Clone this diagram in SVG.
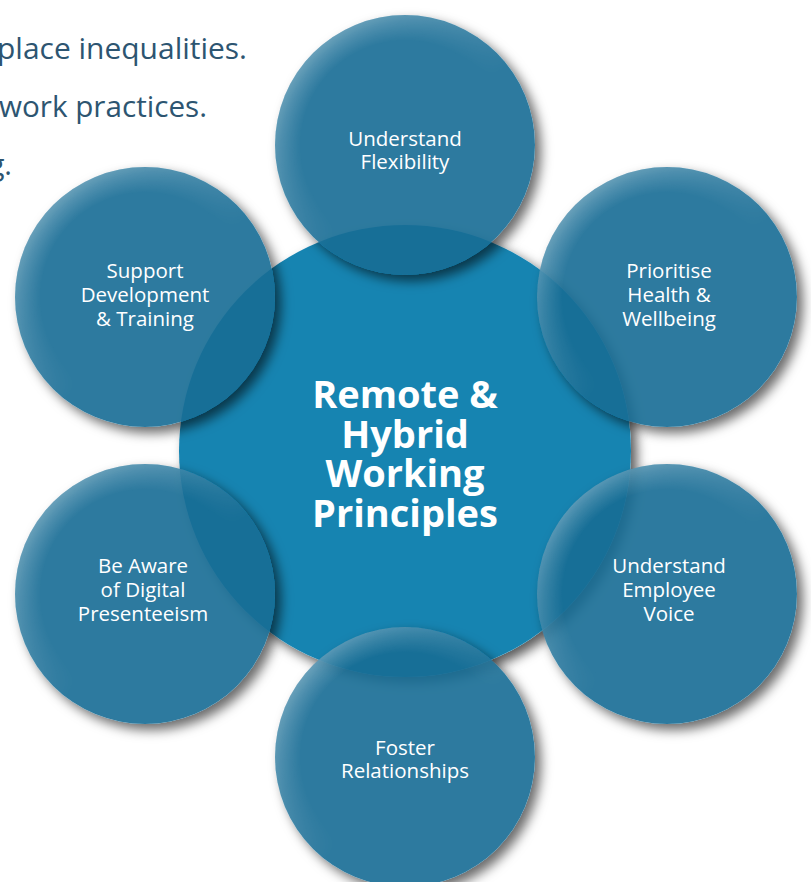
<svg xmlns="http://www.w3.org/2000/svg" width="811" height="882" viewBox="0 0 811 882">
<defs>
  <radialGradient id="gHi" cx="50%" cy="50%" r="50%">
    <stop offset="0" stop-color="#ffffff" stop-opacity="0"/>
    <stop offset="0.8" stop-color="#ffffff" stop-opacity="0"/>
    <stop offset="1" stop-color="#ffffff" stop-opacity="0.32"/>
  </radialGradient>
  <linearGradient id="gMask" x1="0" y1="0" x2="1" y2="1">
    <stop offset="0.1" stop-color="#ffffff"/>
    <stop offset="0.55" stop-color="#000000"/>
  </linearGradient>
  <mask id="hiMask" maskContentUnits="objectBoundingBox">
    <rect width="1" height="1" fill="url(#gMask)"/>
  </mask>
  <filter id="shadow" x="-20%" y="-20%" width="145%" height="145%">
    <feGaussianBlur in="SourceAlpha" stdDeviation="6" result="b"/>
    <feOffset in="b" dx="6" dy="6" result="o"/>
    <feComposite in="o" in2="SourceAlpha" operator="out" result="oo"/>
    <feFlood flood-color="#000" flood-opacity="0.65"/>
    <feComposite in2="oo" operator="in" result="s"/>
    <feMerge><feMergeNode in="s"/><feMergeNode in="SourceGraphic"/></feMerge>
  </filter>
</defs>
<style>
  .bg { font-family: "Open Sans", Lato, sans-serif; font-size: 29px; fill: #2d5571; }
  .outer { fill: #176d95; fill-opacity: 0.9; }
  .hi { fill: url(#gHi); }
  .lbl { font-family: "Open Sans", Lato, sans-serif; font-size: 20.5px; fill: #ffffff; text-anchor: middle; }
  .title { font-family: "Open Sans", Lato, sans-serif; font-size: 38px; font-weight: 700; fill: #ffffff; text-anchor: middle; }
</style>
<rect width="811" height="882" fill="#ffffff"/>
<g id="background-text">
  <text class="bg" x="-3" y="59" textLength="250" lengthAdjust="spacingAndGlyphs">place inequalities.</text>
  <text class="bg" x="-1" y="117" textLength="208" lengthAdjust="spacingAndGlyphs">work practices.</text>
  <text class="bg" x="12" y="175" text-anchor="end">g.</text>
</g>
<g id="center">
  <circle cx="405" cy="451" r="226" fill="#1784b1" filter="url(#shadow)"/>
  <text class="title" x="405" y="408">Remote &amp;</text>
  <text class="title" x="405" y="448">Hybrid</text>
  <text class="title" x="405" y="487">Working</text>
  <text class="title" x="405" y="527">Principles</text>
</g>
<g id="n-flexibility">
  <circle class="outer" cx="405" cy="145" r="130" filter="url(#shadow)"/>
  <circle class="hi" cx="405" cy="145" r="130" mask="url(#hiMask)"/>
  <text class="lbl" x="405" y="146">Understand</text>
  <text class="lbl" x="405" y="169">Flexibility</text>
</g>
<g id="n-development">
  <circle class="outer" cx="145" cy="297" r="130" filter="url(#shadow)"/>
  <circle class="hi" cx="145" cy="297" r="130" mask="url(#hiMask)"/>
  <text class="lbl" x="145" y="278">Support</text>
  <text class="lbl" x="145" y="302">Development</text>
  <text class="lbl" x="145" y="326">&amp; Training</text>
</g>
<g id="n-health">
  <circle class="outer" cx="667" cy="297" r="130" filter="url(#shadow)"/>
  <circle class="hi" cx="667" cy="297" r="130" mask="url(#hiMask)"/>
  <text class="lbl" x="669" y="278">Prioritise</text>
  <text class="lbl" x="669" y="302">Health &amp;</text>
  <text class="lbl" x="669" y="326">Wellbeing</text>
</g>
<g id="n-voice">
  <circle class="outer" cx="667" cy="594" r="130" filter="url(#shadow)"/>
  <circle class="hi" cx="667" cy="594" r="130" mask="url(#hiMask)"/>
  <text class="lbl" x="669" y="573">Understand</text>
  <text class="lbl" x="669" y="597">Employee</text>
  <text class="lbl" x="669" y="621">Voice</text>
</g>
<g id="n-presenteeism">
  <circle class="outer" cx="145" cy="594" r="130" filter="url(#shadow)"/>
  <circle class="hi" cx="145" cy="594" r="130" mask="url(#hiMask)"/>
  <text class="lbl" x="143" y="573">Be Aware</text>
  <text class="lbl" x="143" y="597">of Digital</text>
  <text class="lbl" x="143" y="621">Presenteeism</text>
</g>
<g id="n-relationships">
  <circle class="outer" cx="405" cy="757" r="130" filter="url(#shadow)"/>
  <circle class="hi" cx="405" cy="757" r="130" mask="url(#hiMask)"/>
  <text class="lbl" x="405" y="755">Foster</text>
  <text class="lbl" x="405" y="778">Relationships</text>
</g>
</svg>
